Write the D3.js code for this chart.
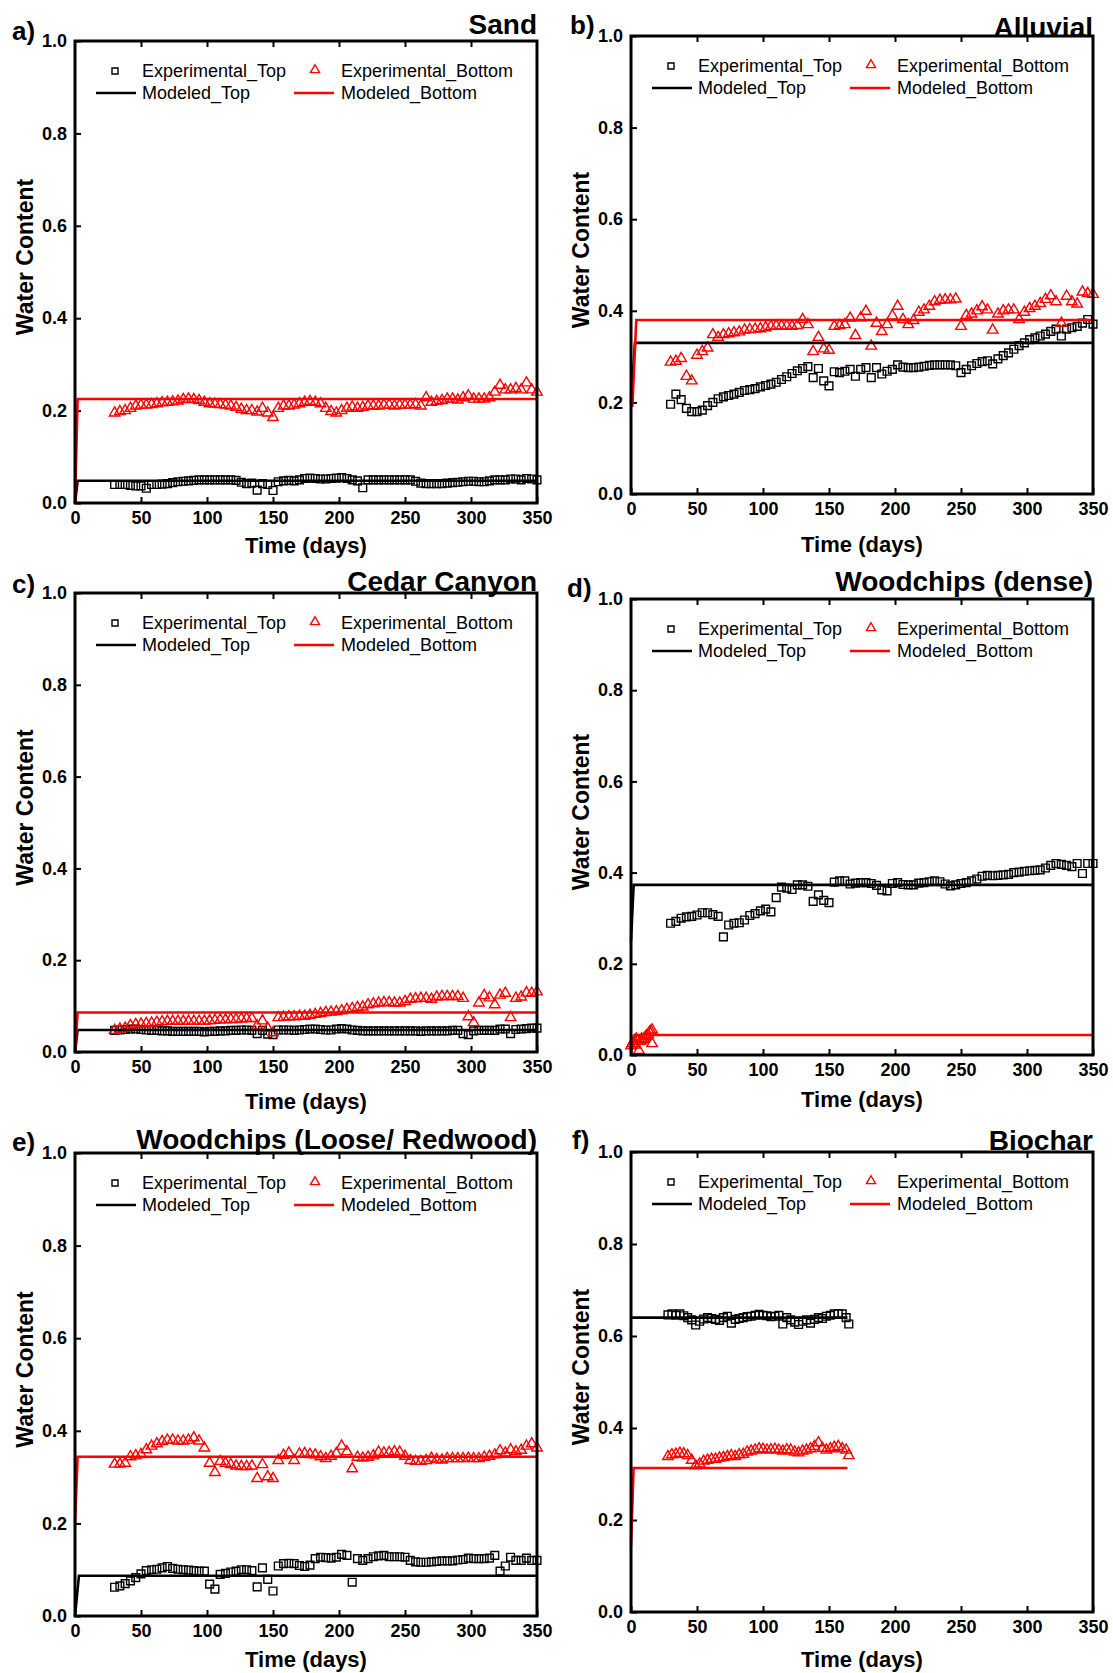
<!DOCTYPE html>
<html>
<head>
<meta charset="utf-8">
<script src="https://cdn.jsdelivr.net/npm/d3@7"></script>
<style>
  body { margin: 0; background: #fff; }
  svg { display: block; font-family: "Liberation Sans", Arial, Helvetica, sans-serif; }
</style>
</head>
<body>
<svg id="chart" width="1113" height="1673"></svg>
<script>
// ---- data ----
// sampling days shared by the long experimental records
const DAYS = [30,34,38,42,46,50,54,58,62,66,70,74,78,82,86,90,94,98,102,106,
  110,114,118,122,126,130,134,138,142,146,150,154,158,162,166,170,174,178,182,186,
  190,194,198,202,206,210,214,218,222,226,230,234,238,242,246,250,254,258,262,266,
  270,274,278,282,286,290,294,298,302,306,310,314,318,322,326,330,334,338,342,346,350];

const BIOCHAR_DAYS = [28,31,34,37,40,43,46,49,52,55,58,61,64,67,70,73,76,79,82,85,
  88,91,94,97,100,103,106,109,112,115,118,121,124,127,130,133,136,139,142,145,
  148,151,154,157,160,163,165];

const DENSE_BOTTOM_DAYS = [0,1,2,3,4,5,6,7,8,9,10,11,12,13,14,15,16,16];

const X_TICKS = [0,50,100,150,200,250,300,350];
const Y_TICKS = [0,0.2,0.4,0.6,0.8,1.0];

// a) Sand
const SAND_TOP = [0.040,0.040,0.040,0.038,0.037,0.037,0.032,0.040,0.040,0.041,
  0.042,0.044,0.046,0.047,0.048,0.049,0.050,0.050,0.050,0.050,
  0.050,0.050,0.050,0.049,0.045,0.042,0.043,0.028,0.042,0.040,
  0.027,0.046,0.048,0.049,0.048,0.050,0.053,0.054,0.053,0.052,
  0.052,0.053,0.054,0.055,0.053,0.050,0.048,0.033,0.050,0.050,
  0.050,0.050,0.050,0.050,0.050,0.050,0.050,0.047,0.043,0.042,
  0.042,0.042,0.042,0.043,0.044,0.045,0.046,0.047,0.047,0.046,
  0.046,0.048,0.050,0.050,0.050,0.052,0.052,0.050,0.053,0.052,0.050];
const SAND_BOTTOM = [0.195,0.198,0.200,0.205,0.210,0.212,0.212,0.213,0.215,0.217,
  0.218,0.219,0.221,0.224,0.225,0.224,0.222,0.218,0.215,0.214,
  0.213,0.212,0.210,0.207,0.203,0.200,0.200,0.197,0.205,0.195,
  0.185,0.205,0.210,0.210,0.212,0.215,0.218,0.220,0.218,0.215,
  0.205,0.198,0.195,0.200,0.205,0.208,0.205,0.207,0.210,0.210,
  0.210,0.212,0.212,0.210,0.212,0.212,0.212,0.213,0.210,0.228,
  0.218,0.220,0.222,0.225,0.225,0.223,0.228,0.232,0.225,0.225,
  0.225,0.228,0.240,0.255,0.245,0.245,0.248,0.245,0.260,0.245,0.240];
const SAND_MODEL_TOP = [[0,0],[2,0.048],[350,0.048]];
const SAND_MODEL_BOTTOM = [[0,0],[2,0.225],[350,0.225]];

// b) Alluvial
const ALLUVIAL_TOP = [0.196,0.218,0.206,0.187,0.180,0.180,0.183,0.193,0.200,0.208,
  0.212,0.215,0.218,0.222,0.226,0.228,0.230,0.234,0.237,0.240,
  0.244,0.250,0.256,0.263,0.269,0.274,0.278,0.254,0.274,0.247,
  0.236,0.267,0.265,0.268,0.272,0.257,0.272,0.276,0.254,0.276,
  0.262,0.268,0.272,0.282,0.277,0.276,0.276,0.277,0.279,0.281,
  0.282,0.282,0.282,0.282,0.280,0.265,0.272,0.280,0.285,0.289,
  0.291,0.284,0.295,0.302,0.308,0.316,0.324,0.330,0.337,0.341,
  0.345,0.349,0.355,0.360,0.345,0.360,0.363,0.366,0.373,0.381,0.371];
const ALLUVIAL_BOTTOM = [0.288,0.290,0.296,0.257,0.247,0.303,0.311,0.319,0.348,0.342,
  0.348,0.350,0.352,0.354,0.358,0.359,0.360,0.361,0.363,0.366,
  0.367,0.367,0.367,0.366,0.368,0.381,0.370,0.311,0.342,0.317,
  0.314,0.366,0.368,0.370,0.384,0.346,0.385,0.399,0.323,0.373,
  0.355,0.370,0.389,0.410,0.381,0.370,0.379,0.397,0.402,0.410,
  0.420,0.423,0.424,0.424,0.426,0.366,0.390,0.393,0.400,0.409,
  0.402,0.358,0.393,0.400,0.402,0.402,0.381,0.397,0.405,0.410,
  0.416,0.425,0.433,0.420,0.373,0.432,0.420,0.415,0.441,0.438,0.436];
const ALLUVIAL_MODEL_TOP = [[0,0.2],[3,0.33],[350,0.33]];
const ALLUVIAL_MODEL_BOTTOM = [[1,0.19],[4,0.38],[350,0.38]];

// c) Cedar Canyon
const CEDAR_TOP = [0.047,0.048,0.049,0.050,0.050,0.049,0.048,0.047,0.047,0.046,
  0.046,0.045,0.045,0.045,0.045,0.045,0.045,0.044,0.045,0.045,
  0.046,0.046,0.047,0.047,0.048,0.048,0.047,0.040,0.047,0.039,
  0.038,0.048,0.048,0.048,0.047,0.048,0.049,0.050,0.050,0.049,
  0.048,0.048,0.050,0.051,0.050,0.048,0.047,0.046,0.046,0.046,
  0.046,0.046,0.046,0.046,0.046,0.046,0.046,0.046,0.045,0.046,
  0.046,0.046,0.046,0.046,0.047,0.047,0.040,0.038,0.046,0.047,
  0.047,0.047,0.047,0.050,0.050,0.040,0.049,0.050,0.051,0.052,0.052];
const CEDAR_BOTTOM = [0.047,0.050,0.052,0.058,0.060,0.061,0.062,0.063,0.065,0.066,
  0.067,0.067,0.067,0.067,0.067,0.067,0.067,0.067,0.068,0.069,
  0.070,0.070,0.071,0.071,0.072,0.073,0.073,0.057,0.068,0.052,
  0.042,0.075,0.076,0.077,0.077,0.078,0.078,0.080,0.082,0.084,
  0.086,0.087,0.088,0.090,0.093,0.095,0.097,0.098,0.103,0.105,
  0.107,0.108,0.108,0.107,0.107,0.110,0.115,0.116,0.117,0.117,
  0.115,0.120,0.121,0.121,0.121,0.121,0.117,0.077,0.064,0.107,
  0.123,0.118,0.103,0.124,0.128,0.075,0.117,0.120,0.129,0.128,0.131];
const CEDAR_MODEL_TOP = [[0,0],[2,0.048],[350,0.048]];
const CEDAR_MODEL_BOTTOM = [[0,0],[2,0.086],[350,0.086]];

// d) Woodchips (dense)
const DENSE_TOP = [0.289,0.293,0.300,0.303,0.304,0.307,0.312,0.312,0.308,0.304,
  0.259,0.285,0.289,0.290,0.296,0.306,0.310,0.316,0.320,0.314,
  0.345,0.368,0.366,0.363,0.373,0.373,0.370,0.337,0.351,0.339,
  0.334,0.379,0.382,0.382,0.375,0.377,0.378,0.378,0.376,0.372,
  0.362,0.360,0.376,0.378,0.374,0.373,0.373,0.377,0.378,0.380,
  0.382,0.380,0.375,0.371,0.373,0.376,0.378,0.382,0.386,0.392,
  0.394,0.393,0.394,0.395,0.396,0.400,0.401,0.403,0.404,0.405,
  0.406,0.410,0.416,0.420,0.418,0.416,0.413,0.420,0.398,0.420,0.420];
const DENSE_BOTTOM = [0.020,0.025,0.030,0.022,0.035,0.030,0.010,0.030,0.035,0.033,
  0.036,0.040,0.042,0.045,0.050,0.052,0.055,0.025];
const DENSE_MODEL_TOP = [[0,0.25],[2,0.373],[350,0.373]];
const DENSE_MODEL_BOTTOM = [[0,0.005],[3,0.044],[350,0.044]];

// e) Woodchips (Loose/ Redwood)
const LOOSE_TOP = [0.062,0.065,0.070,0.076,0.083,0.091,0.098,0.100,0.101,0.104,
  0.107,0.103,0.101,0.100,0.099,0.098,0.097,0.097,0.069,0.058,
  0.090,0.092,0.095,0.097,0.100,0.100,0.098,0.063,0.104,0.079,
  0.054,0.108,0.113,0.114,0.113,0.109,0.107,0.110,0.124,0.127,
  0.126,0.125,0.127,0.133,0.131,0.073,0.124,0.120,0.124,0.128,
  0.130,0.131,0.128,0.128,0.128,0.127,0.120,0.117,0.116,0.116,
  0.117,0.118,0.119,0.119,0.119,0.121,0.122,0.125,0.124,0.124,
  0.124,0.125,0.131,0.097,0.108,0.127,0.120,0.120,0.125,0.120,0.120];
const LOOSE_BOTTOM = [0.328,0.328,0.330,0.344,0.346,0.349,0.359,0.367,0.372,0.377,
  0.380,0.380,0.378,0.378,0.380,0.385,0.378,0.363,0.330,0.310,
  0.334,0.330,0.327,0.324,0.323,0.323,0.324,0.297,0.327,0.301,
  0.297,0.336,0.347,0.352,0.336,0.350,0.351,0.349,0.348,0.344,
  0.340,0.345,0.351,0.367,0.355,0.318,0.343,0.341,0.343,0.346,
  0.354,0.352,0.353,0.355,0.354,0.345,0.336,0.334,0.334,0.336,
  0.341,0.338,0.337,0.340,0.340,0.340,0.340,0.341,0.340,0.340,
  0.343,0.345,0.348,0.357,0.352,0.359,0.355,0.358,0.367,0.372,0.363];
const LOOSE_MODEL_TOP = [[0,0],[3,0.087],[350,0.087]];
const LOOSE_MODEL_BOTTOM = [[0,0.2],[2,0.344],[350,0.344]];

// f) Biochar
const BIOCHAR_TOP = [0.646,0.648,0.645,0.648,0.644,0.640,0.635,0.624,0.632,0.637,
  0.640,0.638,0.636,0.634,0.640,0.643,0.628,0.636,0.638,0.640,
  0.642,0.643,0.645,0.647,0.645,0.644,0.642,0.643,0.645,0.626,
  0.640,0.635,0.630,0.625,0.632,0.635,0.628,0.636,0.640,0.638,
  0.643,0.645,0.648,0.649,0.648,0.640,0.626];
const BIOCHAR_BOTTOM = [0.338,0.342,0.343,0.345,0.344,0.340,0.330,0.318,0.322,0.328,
  0.330,0.332,0.332,0.335,0.336,0.338,0.340,0.338,0.342,0.343,
  0.348,0.350,0.352,0.355,0.354,0.352,0.353,0.354,0.352,0.350,
  0.353,0.352,0.348,0.346,0.350,0.352,0.355,0.360,0.368,0.356,
  0.352,0.355,0.358,0.360,0.355,0.352,0.340];
const BIOCHAR_MODEL_TOP = [[0,0.64],[164,0.64]];
const BIOCHAR_MODEL_BOTTOM = [[0,0.143],[2,0.313],[164,0.313]];

// ---- panel layout ----
const PANELS = [
  {tag: 'a)', title: 'Sand', box: {x: 75, y: 41, w: 462, h: 462}, tagX: 12, tagY: 40, titleY: 34, xTitleY: 553, yTitleX: 33,
    topDays: DAYS, top: SAND_TOP, bottomDays: DAYS, bottom: SAND_BOTTOM, modTop: SAND_MODEL_TOP, modBottom: SAND_MODEL_BOTTOM},
  {tag: 'b)', title: 'Alluvial', box: {x: 631, y: 36, w: 462, h: 458}, tagX: 570, tagY: 34, titleY: 37, xTitleY: 552, yTitleX: 589,
    topDays: DAYS, top: ALLUVIAL_TOP, bottomDays: DAYS, bottom: ALLUVIAL_BOTTOM, modTop: ALLUVIAL_MODEL_TOP, modBottom: ALLUVIAL_MODEL_BOTTOM},
  {tag: 'c)', title: 'Cedar Canyon', box: {x: 75, y: 593, w: 462, h: 459}, tagX: 12, tagY: 593, titleY: 591, xTitleY: 1109, yTitleX: 33,
    topDays: DAYS, top: CEDAR_TOP, bottomDays: DAYS, bottom: CEDAR_BOTTOM, modTop: CEDAR_MODEL_TOP, modBottom: CEDAR_MODEL_BOTTOM},
  {tag: 'd)', title: 'Woodchips (dense)', box: {x: 631, y: 599, w: 462, h: 456}, tagX: 567, tagY: 597, titleY: 591, xTitleY: 1107, yTitleX: 589,
    topDays: DAYS, top: DENSE_TOP, bottomDays: DENSE_BOTTOM_DAYS, bottom: DENSE_BOTTOM, modTop: DENSE_MODEL_TOP, modBottom: DENSE_MODEL_BOTTOM},
  {tag: 'e)', title: 'Woodchips (Loose/ Redwood)', box: {x: 75, y: 1153, w: 462, h: 463}, tagX: 12, tagY: 1151, titleY: 1149, xTitleY: 1667, yTitleX: 33,
    topDays: DAYS, top: LOOSE_TOP, bottomDays: DAYS, bottom: LOOSE_BOTTOM, modTop: LOOSE_MODEL_TOP, modBottom: LOOSE_MODEL_BOTTOM},
  {tag: 'f)', title: 'Biochar', box: {x: 631, y: 1152, w: 462, h: 460}, tagX: 572, tagY: 1149, titleY: 1150, xTitleY: 1667, yTitleX: 589,
    topDays: BIOCHAR_DAYS, top: BIOCHAR_TOP, bottomDays: BIOCHAR_DAYS, bottom: BIOCHAR_BOTTOM, modTop: BIOCHAR_MODEL_TOP, modBottom: BIOCHAR_MODEL_BOTTOM}
];

const FONT = '"Liberation Sans", Arial, Helvetica, sans-serif';
const RED = '#ff0000';
const svg = d3.select('#chart');

PANELS.forEach(drawPanel);

function styleAxis(sel) {
  sel.select('.domain').remove();
  sel.attr('font-family', FONT);
  sel.selectAll('line').attr('stroke', '#000').attr('stroke-width', 2);
  sel.selectAll('text').attr('font-size', 18).attr('font-weight', 'bold').attr('fill', '#000');
}

function drawPanel(p) {
  const {x: bx, y: by, w, h} = p.box;
  const xScale = d3.scaleLinear([0, 350], [0, w]);
  const yScale = d3.scaleLinear([0, 1], [h, 0]);
  const g = svg.append('g').attr('transform', `translate(${bx},${by})`);

  // axes, ticks pointing inward
  g.append('g').attr('transform', `translate(0,${h})`)
    .call(d3.axisBottom(xScale).tickValues(X_TICKS).tickSize(-6).tickPadding(8).tickFormat(d3.format('d')))
    .call(styleAxis);
  g.append('g')
    .call(d3.axisLeft(yScale).tickValues(Y_TICKS).tickSize(-6).tickPadding(8).tickFormat(d3.format('.1f')))
    .call(styleAxis);
  g.append('g')
    .call(d3.axisTop(xScale).tickValues(X_TICKS.slice(1, -1)).tickSize(-6).tickFormat(''))
    .call(styleAxis);

  // experimental points
  const square = d3.symbol(d3.symbolSquare, 60);
  const triangle = d3.symbol(d3.symbolTriangle, 48);
  g.append('g').selectAll('path')
    .data(d3.zip(p.topDays, p.top))
    .join('path')
    .attr('transform', d => `translate(${xScale(d[0])},${yScale(d[1])})`)
    .attr('d', square)
    .attr('fill', 'none').attr('stroke', '#000').attr('stroke-width', 1.4);
  g.append('g').selectAll('path')
    .data(d3.zip(p.bottomDays, p.bottom))
    .join('path')
    .attr('transform', d => `translate(${xScale(d[0])},${yScale(d[1])})`)
    .attr('d', triangle)
    .attr('fill', 'none').attr('stroke', RED).attr('stroke-width', 1.4);

  // modeled lines
  const line = d3.line().x(d => xScale(d[0])).y(d => yScale(d[1]));
  g.append('path').datum(p.modTop).attr('d', line)
    .attr('fill', 'none').attr('stroke', '#000').attr('stroke-width', 2.6);
  g.append('path').datum(p.modBottom).attr('d', line)
    .attr('fill', 'none').attr('stroke', RED).attr('stroke-width', 2.6);

  // frame
  g.append('rect').attr('width', w).attr('height', h)
    .attr('fill', 'none').attr('stroke', '#000').attr('stroke-width', 3);

  // legend
  const lg = g.append('g').attr('font-family', FONT).attr('font-size', 18).attr('fill', '#000');
  lg.append('path').attr('transform', 'translate(40,30)').attr('d', d3.symbol(d3.symbolSquare, 36))
    .attr('fill', 'none').attr('stroke', '#000').attr('stroke-width', 1.4);
  lg.append('path').attr('transform', 'translate(240,29)').attr('d', d3.symbol(d3.symbolTriangle, 36))
    .attr('fill', 'none').attr('stroke', RED).attr('stroke-width', 1.4);
  lg.append('line').attr('x1', 21).attr('x2', 61).attr('y1', 52).attr('y2', 52)
    .attr('stroke', '#000').attr('stroke-width', 2.6);
  lg.append('line').attr('x1', 219).attr('x2', 259).attr('y1', 52).attr('y2', 52)
    .attr('stroke', RED).attr('stroke-width', 2.6);
  lg.append('text').attr('x', 67).attr('y', 36).text('Experimental_Top');
  lg.append('text').attr('x', 266).attr('y', 36).text('Experimental_Bottom');
  lg.append('text').attr('x', 67).attr('y', 58).text('Modeled_Top');
  lg.append('text').attr('x', 266).attr('y', 58).text('Modeled_Bottom');

  // titles and labels
  svg.append('text').attr('x', bx + w).attr('y', p.titleY)
    .attr('text-anchor', 'end').attr('font-size', 28).attr('font-weight', 'bold').text(p.title);
  svg.append('text').attr('x', p.tagX).attr('y', p.tagY)
    .attr('font-size', 26).attr('font-weight', 'bold').text(p.tag);
  svg.append('text').attr('x', bx + w / 2).attr('y', p.xTitleY)
    .attr('text-anchor', 'middle').attr('font-size', 22).attr('font-weight', 'bold').text('Time (days)');
  svg.append('text')
    .attr('transform', `translate(${p.yTitleX},${by + h / 2 - 15}) rotate(-90)`)
    .attr('text-anchor', 'middle').attr('font-size', 23).attr('font-weight', 'bold').text('Water Content');
}
</script>
</body>
</html>
